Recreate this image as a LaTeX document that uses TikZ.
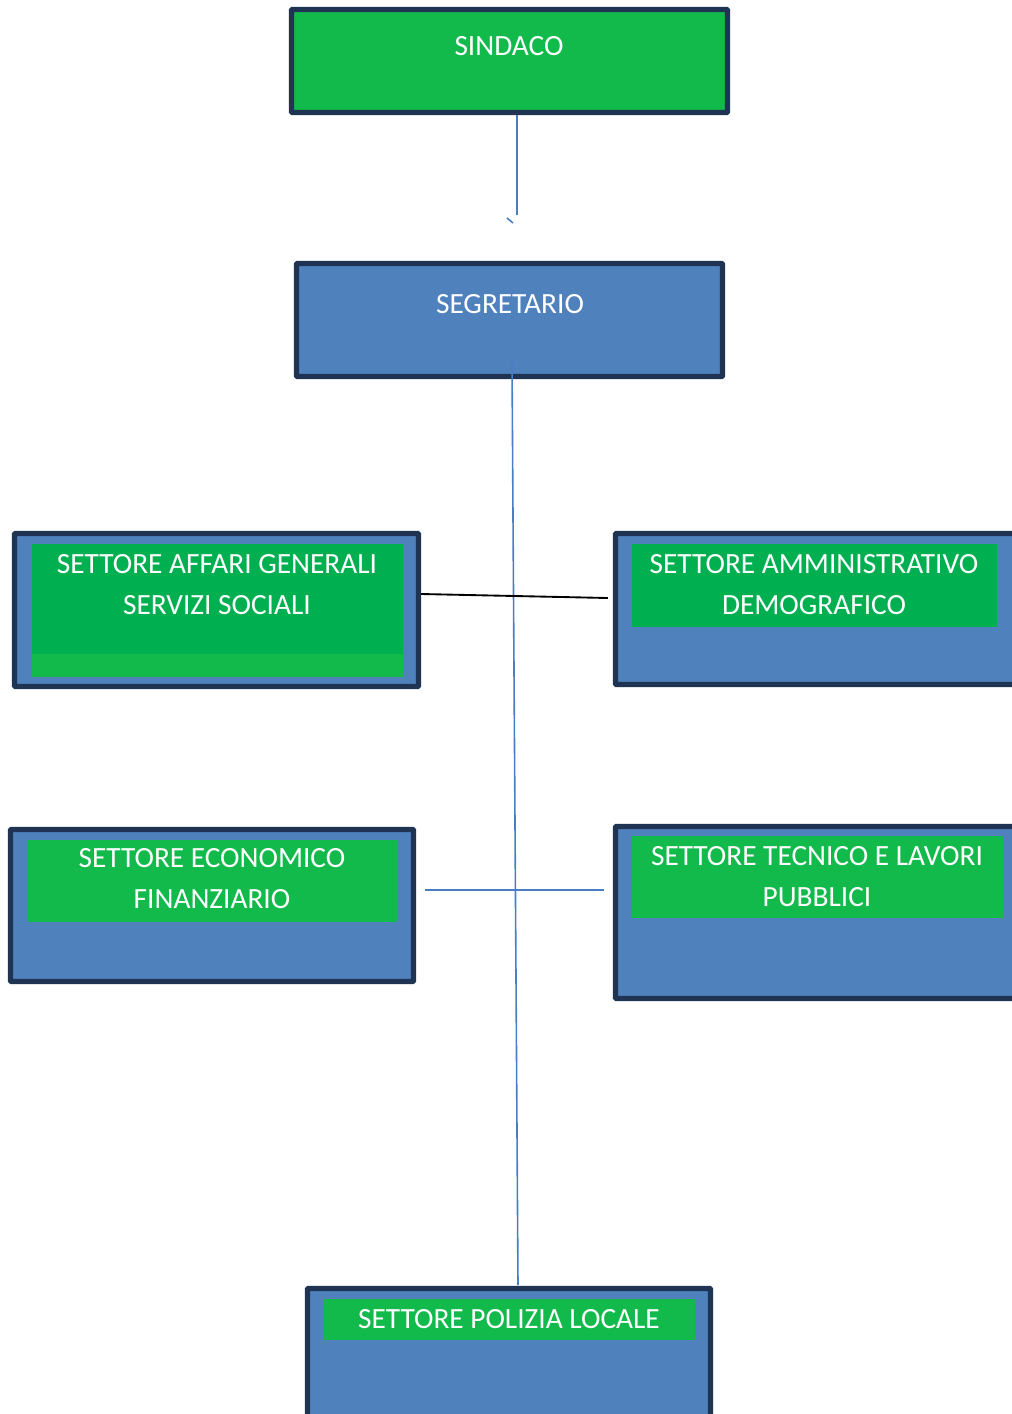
\documentclass[tikz,border=0pt]{standalone}
\usepackage{fontspec}
\setmainfont{Carlito}
\definecolor{navyB}{RGB}{30,52,82}
\definecolor{blueF}{HTML}{4F81BD}
\definecolor{greenA}{HTML}{00B050}
\definecolor{greenB}{HTML}{12BA4B}
\definecolor{lineB}{HTML}{4A7EC4}
\begin{document}
\begin{tikzpicture}[x=0.75pt,y=-0.75pt,
  box/.style={draw=navyB, line width=4pt, inner sep=0pt, rounded corners=0.6pt},
  inner/.style={inner sep=0pt, draw=none},
  lbl/.style={text=white, align=center, font=\fontsize{22}{30.75}\selectfont, inner sep=0pt},
  conn/.style={draw=lineB, line width=1.2pt},
  connk/.style={draw=black, line width=1.4pt}]
\useasboundingbox (0,0) rectangle (1012,1414);
% outer boxes
\node[box, fill=greenB, minimum width=436*0.75pt, minimum height=103*0.75pt] (sindaco) at (509.5,61) {};
\node[box, fill=blueF, minimum width=426*0.75pt, minimum height=113*0.75pt] (segretario) at (509.5,320) {};
\node[box, fill=blueF, minimum width=404*0.75pt, minimum height=153*0.75pt] (ag) at (216.5,610) {};
\node[box, fill=blueF, minimum width=407*0.75pt, minimum height=151*0.75pt] (ad) at (819,609) {};
\node[box, fill=blueF, minimum width=403*0.75pt, minimum height=152*0.75pt] (ef) at (212,905.5) {};
\node[box, fill=blueF, minimum width=407*0.75pt, minimum height=172*0.75pt] (tl) at (819,912.5) {};
\node[box, fill=blueF, minimum width=403*0.75pt, minimum height=139*0.75pt] (pl) at (509,1358) {};
% inner green panels
\node[inner, fill=greenB, minimum width=371*0.75pt, minimum height=133*0.75pt] (agin) at (217.5,610.5) {};
\node[inner, fill=greenA, minimum width=371*0.75pt, minimum height=110*0.75pt] (agtop) at (217.5,599) {};
\node[inner, fill=greenA, minimum width=365*0.75pt, minimum height=83*0.75pt] (adin) at (814.5,585.5) {};
\node[inner, fill=greenB, minimum width=369*0.75pt, minimum height=82*0.75pt] (efin) at (212.5,881) {};
\node[inner, fill=greenB, minimum width=371*0.75pt, minimum height=82*0.75pt] (tlin) at (817.5,877) {};
\node[inner, fill=greenB, minimum width=371*0.75pt, minimum height=41*0.75pt] (plin) at (509.5,1319.5) {};
% labels
\node[lbl] (tsindaco) at (509,46) {SINDACO};
\node[lbl] (tsegretario) at (510,304) {SEGRETARIO};
\node[lbl] (tag) at (217,584.5) {SETTORE AFFARI GENERALI\\SERVIZI SOCIALI};
\node[lbl] (tad) at (814,584.5) {SETTORE AMMINISTRATIVO\\DEMOGRAFICO};
\node[lbl] (tef) at (212,879) {SETTORE ECONOMICO\\FINANZIARIO};
\node[lbl] (ttl) at (817,876.5) {SETTORE TECNICO E LAVORI\\PUBBLICI};
\node[lbl] (tpl) at (509,1319) {SETTORE POLIZIA LOCALE};
% connectors
\coordinate (sdend) at (517,215);
\coordinate (tk1) at (507,218);
\coordinate (tk2) at (513,223);
\coordinate (segin) at (512,362);
\coordinate (plend) at (518,1285);
\draw[conn] (sindaco.south -| sdend) -- (sdend);
\draw[conn] (tk1) -- (tk2);
\draw[conn] (segin) -- (plend);
\draw[connk] ([yshift=16*0.75pt]ag.east) -- ([xshift=-5*0.75pt,yshift=11*0.75pt]ad.west);
\draw[conn] ([xshift=9*0.75pt,yshift=15.5*0.75pt]ef.east) -- ([xshift=-9*0.75pt,yshift=22.5*0.75pt]tl.west);
\end{tikzpicture}
\end{document}
